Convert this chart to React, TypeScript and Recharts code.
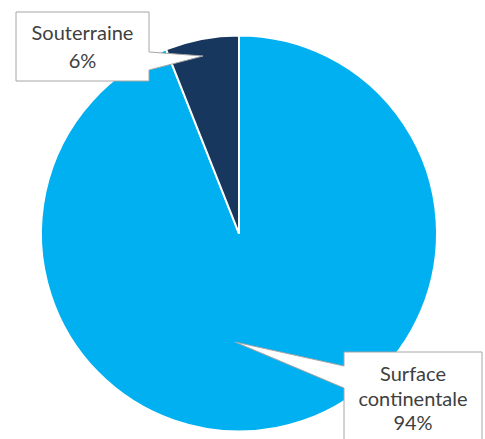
import { Pie, PieChart } from 'recharts';

const categories = ['Surface continentale', 'Souterraine'];
const shares = [94, 6];
const sliceColors = ['#00B0F0', '#17375E'];

const data = categories.map((name, i) => ({ name, value: shares[i], fill: sliceColors[i] }));

// callout boxes, relative to the pie centre
const callouts = [
  { x: 105, y: 118.5, w: 138, h: 95, pointer: 'left', base: [14, 36], tip: [-4, 108.5], lines: [-0.5, 24.5, 49] },
  { x: -223, y: -221.5, w: 133, h: 69, pointer: 'right', base: [40, 58], tip: [-36, -177.5], lines: [-1, 26.5] },
];

const font = 'Lato, "Noto Sans", sans-serif';

function Callout(props: any) {
  const { cx, cy, index, name, percent } = props;
  const c = callouts[index];
  const left = cx + c.x;
  const top = cy + c.y;
  const right = left + c.w;
  const bottom = top + c.h;
  const tx = cx + c.tip[0];
  const ty = cy + c.tip[1];
  const d =
    c.pointer === 'right'
      ? `M${left},${top} H${right} V${top + c.base[0]} L${tx},${ty} L${right},${top + c.base[1]} V${bottom} H${left} Z`
      : `M${left},${top} H${right} V${bottom} H${left} V${top + c.base[1]} L${tx},${ty} L${left},${top + c.base[0]} Z`;
  const words = index === 0 ? name.split(' ') : [name];
  const texts = [...words, `${Math.round(percent * 100)}%`];
  const mid = left + c.w / 2;
  return (
    <g>
      <path d={d} fill="#fff" stroke="#A6A6A6" strokeWidth={1} />
      {texts.map((t, i) => (
        <text
          key={i}
          x={mid}
          y={top + 21 + c.lines[i]}
          textAnchor="middle"
          dominantBaseline="central"
          fill="#404040"
          fontSize={20}
          fontFamily={font}
        >
          {t}
        </text>
      ))}
    </g>
  );
}

export default function App() {
  return (
    <div style={{ position: 'absolute', left: 0, top: 0, width: 485, height: 439, background: '#fff' }}>
      <PieChart width={485} height={439} margin={{ top: 0, right: 0, bottom: 0, left: 0 }}>
        <Pie
          data={data}
          dataKey="value"
          nameKey="name"
          cx={239}
          cy={233.5}
          outerRadius={198}
          startAngle={90}
          endAngle={-270}
          stroke="#fff"
          strokeWidth={2}
          label={Callout}
          labelLine={false}
          isAnimationActive={false}
        />
      </PieChart>
    </div>
  );
}
